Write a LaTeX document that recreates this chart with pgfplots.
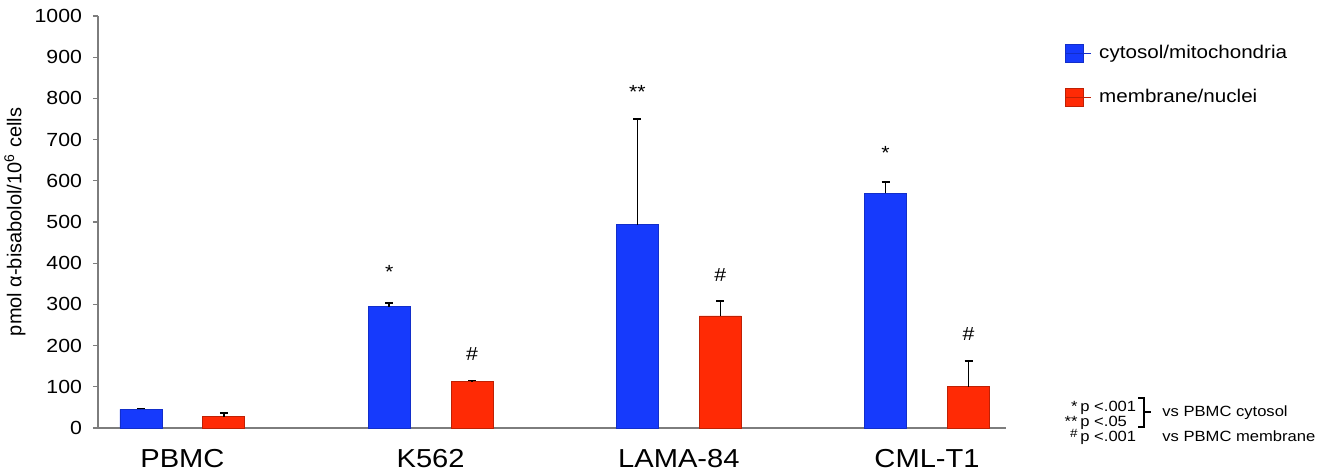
\documentclass[border=0pt]{standalone}
\usepackage{fontspec}
\setmainfont{Liberation Sans}[FakeStretch=1.12]
\newfontfamily\plainsans{Liberation Sans}
\usepackage{pgfplots}
\pgfplotsset{compat=1.18}

\definecolor{cyto}{RGB}{22,58,252}
\definecolor{memb}{RGB}{255,42,5}
\definecolor{axgray}{RGB}{125,125,125}

\begin{document}
\begin{tikzpicture}
\useasboundingbox (-49pt,-23pt) rectangle (614pt,214pt);
\begin{axis}[
    at={(0pt,0pt)}, anchor=south west,
    scale only axis, width=454pt, height=206pt,
    xmin=-0.340, xmax=3.318, ymin=0, ymax=1000,
    clip=false,
    axis x line=bottom, axis y line=left,
    axis line style={axgray, line width=0.6pt, -},
    ybar, bar shift=0pt, bar width=0.169,
    xtick={0,1,2,3},
    xticklabels={PBMC,K562,LAMA-84,CML-T1},
    x tick style={draw=none},
    xticklabel style={font=\fontsize{13}{15}\selectfont, yshift=-4.5pt},
    ytick={0,100,...,1000},
    y tick style={axgray, line width=0.6pt},
    tick align=outside, major tick length=2.5pt,
    yticklabel style={font=\fontsize{9.5}{11}\selectfont, xshift=-2pt},
    /pgf/number format/assume math mode=true,
    /pgf/number format/1000 sep={},
    ylabel={\plainsans pmol α-bisabolol/10\textsuperscript{6} cells},
    ylabel style={font=\fontsize{10}{12}\selectfont, at={(axis description cs:-0.0914,0.5)}, anchor=center},
    legend image code/.code={\draw[#1] (0pt,-4.5pt) rectangle (9pt,4.5pt); \path (0pt,0pt) -- (12.5pt,0pt);},
    legend style={at={(axis description cs:1.065,0.939)}, anchor=north west,
        draw=none, fill=none, inner sep=0pt, row sep=9.5pt,
        font=\fontsize{9.2}{10}\selectfont,
        nodes={inner xsep=4pt}},
    legend cell align=left,
    error bars/y dir=plus, error bars/y explicit,
    error bars/error bar style={black, line width=0.7pt},
    error bars/error mark options={black, line width=0.7pt, mark size=2pt, rotate=90},
]
\addplot[fill=cyto, draw=cyto!80!black, line width=0.4pt] coordinates {
    (-0.167,45) +- (0,3)
    (0.833,294) +- (0,9)
    (1.833,493) +- (0,257)
    (2.833,570) +- (0,27)
};
\addlegendentry{cytosol/mitochondria}
\addplot[fill=memb, draw=memb!75!black, line width=0.4pt] coordinates {
    (0.167,27) +- (0,9)
    (1.167,112) +- (0,4)
    (2.167,272) +- (0,36)
    (3.167,100) +- (0,63)
};
\addlegendentry{membrane/nuclei}

\begin{scope}[font=\fontsize{9.5}{10}\selectfont]
\node at (axis cs:0.833,379) {*};
\node at (axis cs:1.167,180) {\#};
\node at (axis cs:1.833,816) {**};
\node at (axis cs:2.167,371) {\#};
\node at (axis cs:2.833,667) {*};
\node at (axis cs:3.167,228) {\#};
\end{scope}
\end{axis}

\begin{scope}[x=0.5pt, y=-0.5pt, shift={(-49pt,214pt)}, font=\fontsize{7.4}{9}\selectfont]
\node[anchor=base west, inner sep=0pt] at (1080,411.7) {p <.001};
\node[anchor=base west, inner sep=0pt] at (1080,426.7) {p <.05};
\node[anchor=base west, inner sep=0pt] at (1080,441.7) {p <.001};
\node[anchor=base east, inner sep=0pt] at (1078,411.7) {*};
\node[anchor=base east, inner sep=0pt] at (1078,426.7) {**};
\node[anchor=base east, inner sep=0pt, font=\fontsize{6}{7}\selectfont] at (1078,437.5) {\#};
\draw[line width=0.8pt] (1138,398) -- (1144,398) -- (1144,427) -- (1138,427);
\draw[line width=0.8pt] (1144,412) -- (1151,412);
\node[anchor=base west, inner sep=0pt] at (1162,417) {vs PBMC cytosol};
\node[anchor=base west, inner sep=0pt] at (1162,441.7) {vs PBMC membrane};
\end{scope}
\end{tikzpicture}
\end{document}
